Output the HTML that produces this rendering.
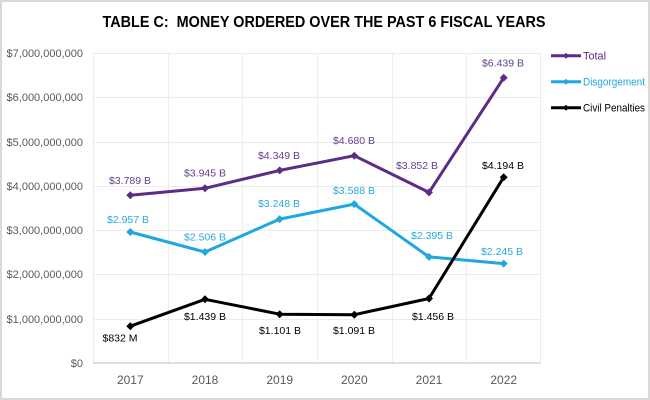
<!DOCTYPE html>
<html>
<head>
<meta charset="utf-8">
<style>
html,body{margin:0;padding:0;background:#fff;}
svg{display:block;}
text{font-family:"Liberation Sans",Arial,sans-serif;}
</style>
</head>
<body>
<svg width="650" height="400" viewBox="0 0 650 400" xmlns="http://www.w3.org/2000/svg">
<rect x="0" y="0" width="650" height="400" fill="#fff"/>
<rect x="1" y="1" width="648" height="398" fill="none" stroke="#d9d9d9" stroke-width="2"/>

<text x="324" y="27" text-anchor="middle" font-size="16" font-weight="bold" fill="#000" textLength="443" lengthAdjust="spacingAndGlyphs">TABLE C:&#160; MONEY ORDERED OVER THE PAST 6 FISCAL YEARS</text>

<!-- gridlines -->
<g stroke="#ececec" stroke-width="1">
<line x1="93" y1="53.5" x2="541" y2="53.5"/>
<line x1="93" y1="97.5" x2="541" y2="97.5"/>
<line x1="93" y1="142.5" x2="541" y2="142.5"/>
<line x1="93" y1="186.5" x2="541" y2="186.5"/>
<line x1="93" y1="230.5" x2="541" y2="230.5"/>
<line x1="93" y1="274.5" x2="541" y2="274.5"/>
<line x1="93" y1="319.5" x2="541" y2="319.5"/>
<line x1="93.5" y1="53" x2="93.5" y2="363"/>
<line x1="168.5" y1="53" x2="168.5" y2="363"/>
<line x1="242.5" y1="53" x2="242.5" y2="363"/>
<line x1="317.5" y1="53" x2="317.5" y2="363"/>
<line x1="392.5" y1="53" x2="392.5" y2="363"/>
<line x1="466.5" y1="53" x2="466.5" y2="363"/>
<line x1="540.5" y1="53" x2="540.5" y2="363"/>
</g>
<line x1="93" y1="363" x2="541" y2="363" stroke="#d4d4d4" stroke-width="1.5"/>

<!-- y tick labels -->
<g font-size="11" fill="#595959" text-anchor="end">
<text x="83" y="57">$7,000,000,000</text>
<text x="83" y="101">$6,000,000,000</text>
<text x="83" y="146">$5,000,000,000</text>
<text x="83" y="190">$4,000,000,000</text>
<text x="83" y="234">$3,000,000,000</text>
<text x="83" y="278">$2,000,000,000</text>
<text x="83" y="323">$1,000,000,000</text>
<text x="83" y="367">$0</text>
</g>

<!-- x labels -->
<g font-size="12" fill="#595959" text-anchor="middle">
<text x="130.3" y="384">2017</text>
<text x="205" y="384">2018</text>
<text x="279.7" y="384">2019</text>
<text x="354.3" y="384">2020</text>
<text x="429" y="384">2021</text>
<text x="503.7" y="384">2022</text>
</g>

<!-- series -->
<polyline fill="none" stroke="#5b2d86" stroke-width="3" stroke-linejoin="round" points="130.3,195.2 205,188.3 279.7,170.4 354.3,155.7 429,192.4 503.7,77.8"/>
<polyline fill="none" stroke="#21a7e0" stroke-width="3" stroke-linejoin="round" points="130.3,232 205,252 279.7,219.1 354.3,204.1 429,256.9 503.7,263.6"/>
<polyline fill="none" stroke="#000" stroke-width="3" stroke-linejoin="round" points="130.3,326.2 205,299.3 279.7,314.2 354.3,314.7 429,298.5 503.7,177.2"/>

<!-- markers -->
<g fill="#5b2d86">
<path d="M130.3,191.2 l4,4 l-4,4 l-4,-4z"/>
<path d="M205,184.3 l4,4 l-4,4 l-4,-4z"/>
<path d="M279.7,166.4 l4,4 l-4,4 l-4,-4z"/>
<path d="M354.3,151.7 l4,4 l-4,4 l-4,-4z"/>
<path d="M429,188.4 l4,4 l-4,4 l-4,-4z"/>
<path d="M503.7,73.8 l4,4 l-4,4 l-4,-4z"/>
</g>
<g fill="#21a7e0">
<path d="M130.3,228 l4,4 l-4,4 l-4,-4z"/>
<path d="M205,248 l4,4 l-4,4 l-4,-4z"/>
<path d="M279.7,215.1 l4,4 l-4,4 l-4,-4z"/>
<path d="M354.3,200.1 l4,4 l-4,4 l-4,-4z"/>
<path d="M429,252.9 l4,4 l-4,4 l-4,-4z"/>
<path d="M503.7,259.6 l4,4 l-4,4 l-4,-4z"/>
</g>
<g fill="#000">
<path d="M130.3,322.2 l4,4 l-4,4 l-4,-4z"/>
<path d="M205,295.3 l4,4 l-4,4 l-4,-4z"/>
<path d="M279.7,310.2 l4,4 l-4,4 l-4,-4z"/>
<path d="M354.3,310.7 l4,4 l-4,4 l-4,-4z"/>
<path d="M429,294.5 l4,4 l-4,4 l-4,-4z"/>
<path d="M503.7,173.2 l4,4 l-4,4 l-4,-4z"/>
</g>

<!-- data labels -->
<g font-size="10.5" text-anchor="middle" fill="#62408c">
<text x="130" y="184">$3.789 B</text>
<text x="205" y="176.5">$3.945 B</text>
<text x="279" y="159">$4.349 B</text>
<text x="354" y="144">$4.680 B</text>
<text x="417" y="169">$3.852 B</text>
<text x="503" y="66.5">$6.439 B</text>
</g>
<g font-size="10.5" text-anchor="middle" fill="#2aa8de">
<text x="128" y="223">$2.957 B</text>
<text x="205" y="240.5">$2.506 B</text>
<text x="279" y="207">$3.248 B</text>
<text x="354" y="194">$3.588 B</text>
<text x="432" y="239">$2.395 B</text>
<text x="502" y="255">$2.245 B</text>
</g>
<g font-size="10.5" text-anchor="middle" fill="#000">
<text x="120" y="341.5">$832 M</text>
<text x="205" y="320">$1.439 B</text>
<text x="280" y="334">$1.101 B</text>
<text x="354" y="334">$1.091 B</text>
<text x="433" y="320">$1.456 B</text>
<text x="503" y="169">$4.194 B</text>
</g>

<!-- legend -->
<line x1="551" y1="55.7" x2="581" y2="55.7" stroke="#5b2d86" stroke-width="3"/>
<path d="M566,52.7 l3,3 l-3,3 l-3,-3z" fill="#5b2d86"/>
<text x="583" y="59.5" font-size="11" fill="#5b2d86" textLength="23" lengthAdjust="spacingAndGlyphs">Total</text>
<line x1="551" y1="81.7" x2="581" y2="81.7" stroke="#21a7e0" stroke-width="3"/>
<path d="M566,78.7 l3,3 l-3,3 l-3,-3z" fill="#21a7e0"/>
<text x="583" y="85.5" font-size="11" fill="#21a7e0" textLength="62" lengthAdjust="spacingAndGlyphs">Disgorgement</text>
<line x1="551" y1="107.7" x2="581" y2="107.7" stroke="#000" stroke-width="3"/>
<path d="M566,104.7 l3,3 l-3,3 l-3,-3z" fill="#000"/>
<text x="583" y="111.5" font-size="11" fill="#000" textLength="62" lengthAdjust="spacingAndGlyphs">Civil Penalties</text>
</svg>
</body>
</html>
